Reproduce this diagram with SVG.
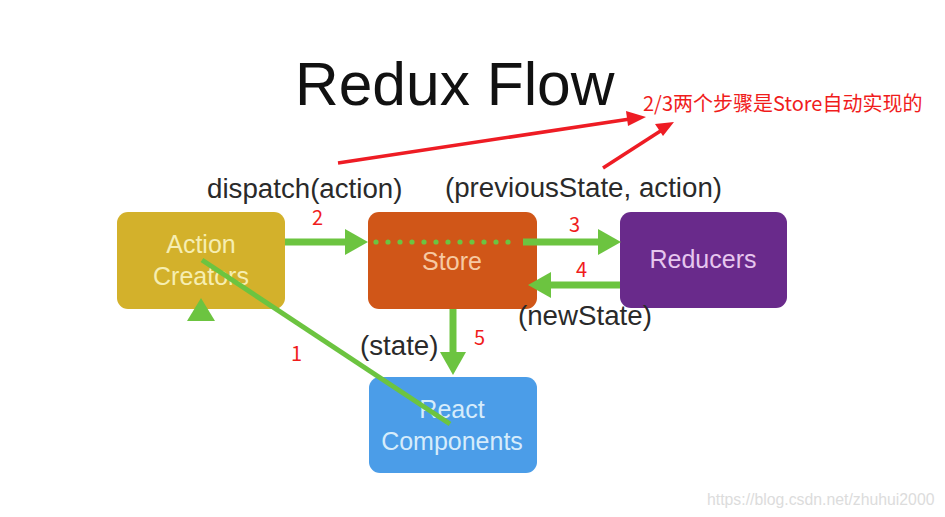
<svg xmlns="http://www.w3.org/2000/svg" width="945" height="517" viewBox="0 0 945 517">
<style>
.lbl{font-family:"Liberation Sans",Arial,sans-serif;fill:#2a2a2a;font-size:27.7px}
.box{font-family:"Liberation Sans",Arial,sans-serif;font-size:25px;text-anchor:middle}
.num{font-family:"Noto Sans CJK SC","Liberation Sans",sans-serif;fill:#f01c1c;font-size:20px}
.g{stroke:#6cc440;stroke-width:7;fill:none}
.gh{fill:#6cc440}
.r{stroke:#ee1c24;stroke-width:3.5;fill:none}
.rh{fill:#ee1c24}
</style>
<rect width="945" height="517" fill="#ffffff"/>
<text x="295" y="105" font-family="'Liberation Sans',Arial,sans-serif" font-size="60.5" fill="#111">Redux Flow</text>
<g id="action-creators">
<rect x="117" y="212" width="168" height="97" rx="11" fill="#d3b12b"/>
<text class="box" x="201" y="253" fill="#f6eeb2" font-size="26">Action</text>
<text class="box" x="201" y="285" fill="#f6eeb2" font-size="26">Creators</text>
</g>
<g id="store">
<rect x="368" y="212" width="169" height="97" rx="11" fill="#d05618"/>
<text class="box" x="452" y="270" fill="#f6c9a2">Store</text>
</g>
<g id="reducers">
<rect x="620" y="212" width="167" height="96" rx="11" fill="#692a8b"/>
<text class="box" x="703" y="268" fill="#e6c6ee">Reducers</text>
</g>
<g id="react-components">
<rect x="369" y="377" width="168" height="96" rx="11" fill="#4b9de8"/>
<text class="box" x="452" y="418" fill="#d6ecfb" font-size="26">React</text>
<text class="box" x="452" y="450" fill="#d6ecfb" font-size="26">Components</text>
</g>
<g id="connectors">
<line class="g" x1="285" y1="242" x2="348" y2="242"/>
<polygon class="gh" points="368,242 345,229 345,255"/>
<g class="gh">
<circle cx="376" cy="242" r="2.6"/><circle cx="388" cy="242" r="2.6"/><circle cx="400" cy="242" r="2.6"/><circle cx="412" cy="242" r="2.6"/><circle cx="424" cy="242" r="2.6"/><circle cx="436" cy="242" r="2.6"/><circle cx="448" cy="242" r="2.6"/><circle cx="460" cy="242" r="2.6"/><circle cx="472" cy="242" r="2.6"/><circle cx="484" cy="242" r="2.6"/><circle cx="496" cy="242" r="2.6"/><circle cx="508" cy="242" r="2.6"/>
</g>
<line class="g" x1="523" y1="242" x2="602" y2="242"/>
<polygon class="gh" points="621,242 598,229 598,255"/>
<line class="g" x1="620" y1="285" x2="548" y2="285"/>
<polygon class="gh" points="528,285 551,272 551,298"/>
<line class="g" x1="453" y1="309" x2="453" y2="355"/>
<polygon class="gh" points="453,375 440,352 466,352"/>
<line x1="202" y1="260" x2="450" y2="424" stroke="#6cc440" stroke-width="5"/>
<polygon class="gh" points="201,298 187,321 215,321"/>
<line class="r" x1="338" y1="163" x2="630" y2="119"/>
<polygon class="rh" points="646,117 626,111 628,126"/>
<line class="r" x1="603" y1="168" x2="662" y2="130"/>
<polygon class="rh" points="674,122 655,124 663,136"/>
</g>
<text class="lbl" x="207" y="198">dispatch(action)</text>
<text class="lbl" x="445" y="197">(previousState, action)</text>
<text class="lbl" x="360" y="355">(state)</text>
<text class="lbl" x="518" y="325">(newState)</text>
<text class="num" x="312" y="225">2</text>
<text class="num" x="569" y="232">3</text>
<text class="num" x="576" y="277">4</text>
<text class="num" x="474" y="345">5</text>
<text class="num" x="291" y="361">1</text>
<text class="num" x="643" y="111" font-size="20.3">2/3两个步骤是Store自动实现的</text>
<text x="707" y="505" font-family="'Liberation Sans',Arial,sans-serif" font-size="15.8" fill="#dcdcdc">https://blog.csdn.net/zhuhui2000</text>
</svg>
